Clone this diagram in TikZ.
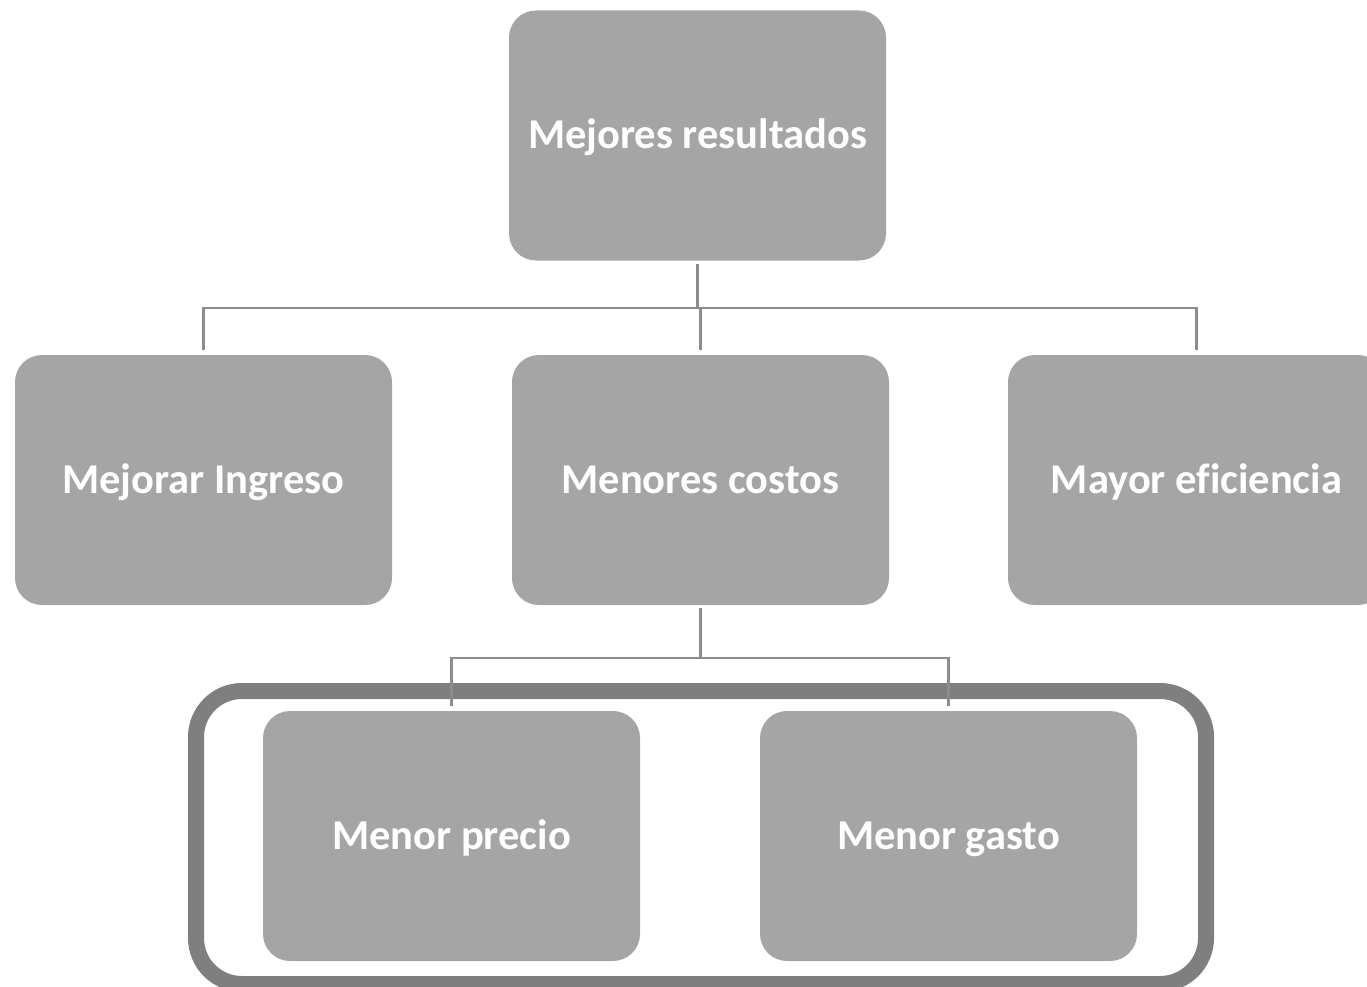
\documentclass[tikz,border=0pt]{standalone}
\usepackage{fontspec}
\setmainfont{Carlito}[Ligatures=NoCommon]
\definecolor{boxfill}{HTML}{A5A5A5}
\definecolor{framecol}{HTML}{7F7F7F}
\definecolor{conncol}{HTML}{8C8C8C}
\begin{document}
\begin{tikzpicture}[x=1pt,y=-1pt,
  box/.style={fill=boxfill, rounded corners=27pt, minimum width=377pt, minimum height=250pt,
    inner sep=0pt, text=white, font=\fontsize{42.5}{50}\selectfont\bfseries,
    text height=26.5pt, text depth=0pt},
  conn/.style={draw=conncol, line width=2.5pt},
  frame/.style={draw=framecol, line width=16pt, rounded corners=46pt, minimum width=1010pt,
    minimum height=293pt, inner sep=0pt}]
\useasboundingbox (0,0) rectangle (1367,987);
\node[frame] (grp) at (701,837.5) {};
\node[box] (top) at (697.5,135.5) {Mejores resultados};
\node[box] (ingreso) at (203.5,480) {Mejorar Ingreso};
\node[box] (costos) at (700.5,480) {Menores costos};
\node[box] (eficiencia) at (1196.5,480) {Mayor eficiencia};
\node[box] (precio) at (451.5,836) {Menor precio};
\node[box] (gasto) at (948.5,836) {Menor gasto};
\coordinate (j1) at (697.5,308);
\coordinate (j2) at (700.5,658);
\draw[conn] ([yshift=-3pt]top.south) -- (j1);
\draw[conn] ([yshift=5pt]ingreso.north) |- (eficiencia.north |- j1) -- ([yshift=5pt]eficiencia.north);
\draw[conn] ([yshift=5pt]costos.north) -- (costos.north |- j1);
\draw[conn] ([yshift=-3pt]costos.south) -- (j2);
\draw[conn] ([yshift=5pt]precio.north) |- (gasto.north |- j2) -- ([yshift=5pt]gasto.north);
\end{tikzpicture}
\end{document}
